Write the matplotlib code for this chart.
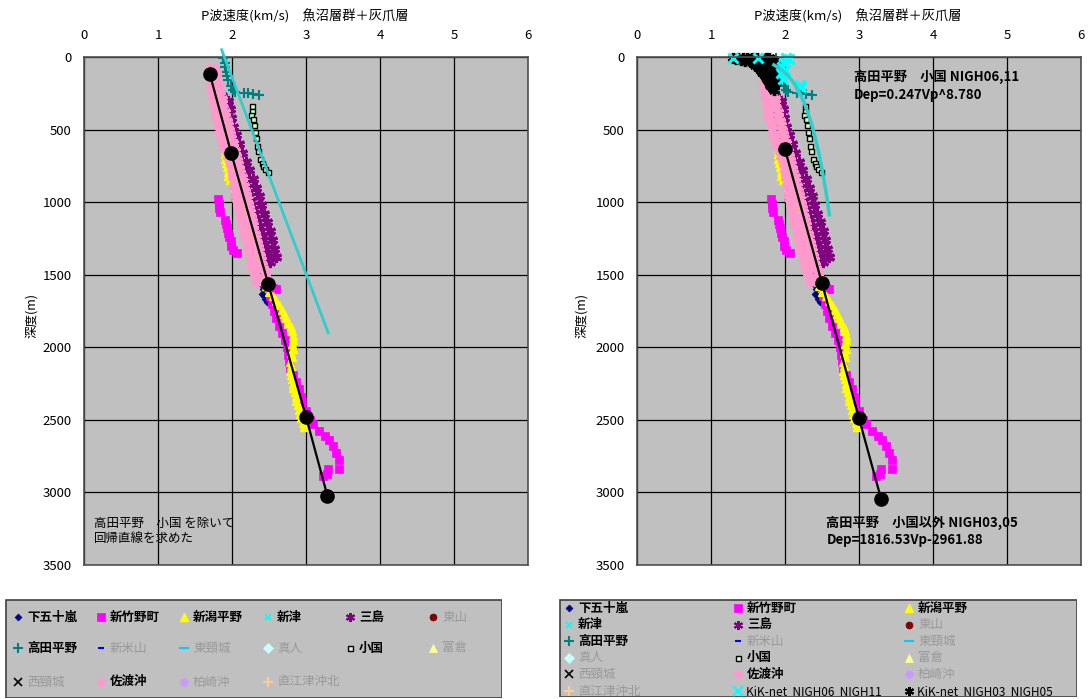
import matplotlib
matplotlib.use("Agg")
import matplotlib.pyplot as plt
from matplotlib.patches import Rectangle

plt.rcParams['font.family'] = ['Noto Sans CJK JP', 'DejaVu Sans']

# ---------------- data: P-wave velocity (km/s) and depth (m) ----------------
shimoigarashi_vp = [2.28, 2.30, 2.31, 2.33, 2.34, 2.35, 2.33, 2.36, 2.38, 2.37, 2.40, 2.42, 2.41, 2.43, 2.45, 2.47]
shimoigarashi_dep = [1150, 1200, 1250, 1300, 1350, 1400, 1450, 1480, 1510, 1540, 1570, 1600, 1630, 1650, 1670, 1690]

shintakeno_vp = [1.81, 1.82, 1.83, 1.84, 1.90, 1.92, 1.93, 1.95, 1.96, 1.98, 1.99, 2.01, 2.07, 2.47,
                 2.55, 2.60, 2.52, 2.54, 2.57, 2.60, 2.64, 2.68, 2.71, 2.74, 2.75, 2.77, 2.79, 2.83,
                 2.87, 2.90, 2.93, 2.95, 3.00, 3.05, 3.10, 3.17, 3.25, 3.31, 3.36, 3.41, 3.44, 3.44,
                 3.30, 3.28, 3.23]
shintakeno_dep = [980, 1010, 1040, 1065, 1120, 1150, 1180, 1210, 1240, 1270, 1300, 1330, 1350, 1360,
                  1590, 1600, 1650, 1700, 1750, 1800, 1850, 1900, 1950, 2000, 2050, 2100, 2140, 2190,
                  2240, 2290, 2340, 2380, 2440, 2500, 2530, 2580, 2610, 2640, 2680, 2730, 2780, 2840,
                  2840, 2870, 2890]

niigata_vp = [1.90, 1.90, 1.91, 1.92, 1.93, 1.94, 1.95, 1.97, 2.04, 2.08, 2.12, 2.16, 2.18, 2.21,
              2.24, 2.26, 2.29, 2.32, 2.34, 2.37, 2.40, 2.43, 2.46, 2.50, 2.55, 2.60, 2.64, 2.67,
              2.70, 2.73, 2.76, 2.80, 2.81, 2.82, 2.82, 2.81, 2.82, 2.80, 2.81, 2.79, 2.80, 2.78,
              2.80, 2.81, 2.82, 2.83, 2.85, 2.86, 2.87, 2.89, 2.90, 2.92, 2.93, 2.96, 2.97]
niigata_dep = [640, 670, 700, 730, 760, 790, 820, 850, 900, 950, 1000, 1050, 1100, 1150,
               1200, 1250, 1300, 1350, 1400, 1450, 1500, 1540, 1580, 1620, 1650, 1680, 1710, 1740,
               1770, 1800, 1830, 1860, 1890, 1920, 1950, 1980, 2010, 2040, 2070, 2100, 2130, 2160,
               2190, 2220, 2250, 2280, 2310, 2340, 2370, 2400, 2430, 2460, 2490, 2520, 2550]

niitsu_vp = [1.88]
niitsu_dep = [250]

mishima_vp = [1.87, 1.95, 1.89, 1.97, 1.90, 1.99, 1.93, 2.02, 1.95, 2.06, 1.99, 2.10, 2.02, 2.14,
              2.06, 2.19, 2.10, 2.23, 2.15, 2.28, 2.19, 2.32, 2.23, 2.36, 2.26, 2.39, 2.30, 2.43,
              2.34, 2.47, 2.38, 2.51, 2.42, 2.54, 2.45, 2.57, 2.48, 2.59, 2.51]
mishima_dep = [270, 300, 330, 360, 390, 420, 450, 480, 510, 540, 570, 600, 630, 660,
               690, 720, 750, 780, 810, 840, 870, 900, 930, 960, 990, 1020, 1050, 1080,
               1110, 1140, 1170, 1200, 1230, 1260, 1290, 1320, 1350, 1380, 1410]

takada_vp = [1.88, 1.90, 1.91, 1.92, 1.93, 1.95, 1.98, 2.01, 2.04, 2.16, 2.22, 2.28, 2.36]
takada_dep = [10, 40, 70, 100, 130, 160, 200, 225, 240, 245, 250, 255, 265]

oguni_vp = [2.27, 2.27, 2.26, 2.28, 2.30, 2.31, 2.32, 2.34, 2.35, 2.38, 2.40, 2.42, 2.45, 2.48]
oguni_dep = [335, 370, 400, 430, 470, 517, 560, 611, 650, 703, 730, 749, 775, 795]

sado_vp = [1.70, 1.76, 1.70, 1.78, 1.71, 1.79, 1.72, 1.80, 1.72, 1.82, 1.73, 1.83, 1.74, 1.84,
           1.75, 1.86, 1.76, 1.87, 1.77, 1.88, 1.78, 1.90, 1.79, 1.91, 1.81, 1.93, 1.82, 1.94,
           1.83, 1.96, 1.85, 1.97, 1.86, 1.99, 1.88, 2.01, 1.91, 2.02, 1.93, 2.04, 1.95, 2.05,
           1.97, 2.07, 1.98, 2.08, 2.00, 2.10, 2.01, 2.11, 2.02, 2.13, 2.03, 2.14, 2.04, 2.16,
           2.05, 2.17, 2.06, 2.19, 2.07, 2.20, 2.08, 2.21, 2.10, 2.23, 2.11, 2.24, 2.12, 2.25,
           2.14, 2.27, 2.15, 2.28, 2.16, 2.29, 2.18, 2.31, 2.19, 2.32, 2.21, 2.34, 2.22, 2.35,
           2.23, 2.36, 2.25, 2.38, 2.26, 2.39, 2.28, 2.41, 2.29, 2.42, 2.31, 2.44, 2.32, 2.45,
           2.34, 2.46]
sado_dep = [80, 80, 110, 110, 140, 140, 170, 170, 200, 200, 230, 230, 260, 260,
            290, 290, 320, 320, 350, 350, 380, 380, 410, 410, 440, 440, 470, 470,
            500, 500, 530, 530, 560, 560, 590, 590, 620, 620, 650, 650, 680, 680,
            710, 710, 740, 740, 770, 770, 800, 800, 830, 830, 860, 860, 890, 890,
            920, 920, 950, 950, 980, 980, 1010, 1010, 1040, 1040, 1070, 1070, 1100, 1100,
            1130, 1130, 1160, 1160, 1190, 1190, 1220, 1220, 1250, 1250, 1280, 1280, 1310, 1310,
            1340, 1340, 1370, 1370, 1400, 1400, 1430, 1430, 1460, 1460, 1490, 1490, 1520, 1520,
            1550, 1550]

kik0611_vp = [1.30, 1.64, 2.02, 2.05, 1.98, 1.96, 2.00, 1.95, 1.97, 2.20, 2.22]
kik0611_dep = [5, 5, 5, 15, 40, 70, 90, 110, 150, 190, 210]

kik0305_vp = [1.30, 1.34, 1.37, 1.40, 1.43, 1.46, 1.48, 1.51, 1.53, 1.55, 1.57, 1.59, 1.60, 1.62,
              1.63, 1.64, 1.66, 1.67, 1.69, 1.70, 1.71, 1.72, 1.74, 1.75, 1.76, 1.77, 1.78, 1.79,
              1.80, 1.81, 1.82, 1.83, 1.84, 1.85, 1.86, 1.78, 1.74, 1.84, 1.68, 1.88, 1.82, 1.76]
kik0305_dep = [5, 12, 4, 18, 8, 25, 6, 15, 30, 10, 40, 20, 55, 8,
               70, 30, 85, 45, 100, 15, 120, 60, 135, 80, 150, 35, 170, 100,
               190, 120, 210, 65, 150, 230, 180, 5, 10, 20, 65, 90, 45, 115]

# regression nodes (black line with dots)
fit_left_vp = [1.70, 1.99, 2.49, 3.00, 3.29]
fit_left_dep = [117, 663, 1564, 2478, 3025]
fit_right_vp = [2.00, 2.50, 3.00, 3.30]
fit_right_dep = [636, 1559, 2489, 3047]

# linear trend of 高田平野・小国 (left panel)
trend_left_vp = [1.86, 3.30]
trend_left_dep = [-50, 1900]

# power-law fit Dep = a * Vp^b (right panel)
power_a = 0.247
power_b = 8.780
power_vp = [1.85, 1.90, 1.95, 2.00, 2.05, 2.10, 2.15, 2.20, 2.25, 2.30,
            2.35, 2.40, 2.45, 2.50, 2.55, 2.60]

xticks = [0, 1, 2, 3, 4, 5, 6]
yticks = [0, 500, 1000, 1500, 2000, 2500, 3000, 3500]

TITLE = 'P波速度(km/s)　魚沼層群＋灰爪層'

# ---------------- styles ----------------
AST = (6, 2, 0)
styles = {
    '下五十嵐': dict(marker='D', color='#000080', ms=3.5, mec='#000080', mew=0.5),
    '新竹野町': dict(marker='s', color='#FF00FF', ms=5.5, mec='#FF00FF', mew=0.5),
    '新潟平野': dict(marker='^', color='#FFFF00', ms=5.5, mec='#FFFF00', mew=1.0),
    '新津': dict(marker='x', color='#00FFFF', ms=5, mec='#00FFFF', mew=1.2),
    '三島': dict(marker=AST, color='#800080', ms=8, mec='#800080', mew=2.2),
    '東山': dict(marker='o', color='#800000', ms=5, mec='#800000', mew=0.5),
    '高田平野': dict(marker='+', color='#008080', ms=7, mec='#008080', mew=1.5),
    '新米山': dict(marker='_', color='#0000FF', ms=5, mec='#0000FF', mew=2.5),
    '東頸城': dict(marker='_', color='#00CCFF', ms=7, mec='#00CCFF', mew=2.5),
    '真人': dict(marker='D', color='#CCFFFF', ms=5, mec='#CCFFFF', mew=0.5),
    '小国': dict(marker='s', color='#CCFFCC', ms=3.6, mec='#000000', mew=1.0),
    '富倉': dict(marker='^', color='#FFFF99', ms=6, mec='#FFFF99', mew=0.5),
    '西頸城': dict(marker='x', color='#000000', ms=6, mec='#000000', mew=1.2),
    '佐渡沖': dict(marker=AST, color='#FF99CC', ms=8, mec='#FF99CC', mew=2.4),
    '柏崎沖': dict(marker='o', color='#CC99FF', ms=5.5, mec='#CC99FF', mew=0.5),
    '直江津沖北': dict(marker='+', color='#FFCC99', ms=7, mec='#FFCC99', mew=1.5),
    'KiK-net NIGH06 NIGH11': dict(marker='x', color='#00FFFF', ms=6.5, mec='#00FFFF', mew=2.2),
    'KiK-net NIGH03 NIGH05': dict(marker=AST, color='#000000', ms=8, mec='#000000', mew=2.4),
}
legend_ms = {'三島': 6.5, '佐渡沖': 6.5, 'KiK-net NIGH03 NIGH05': 6.5}

series = [
    ('下五十嵐', shimoigarashi_vp, shimoigarashi_dep),
    ('新竹野町', shintakeno_vp, shintakeno_dep),
    ('新潟平野', niigata_vp, niigata_dep),
    ('新津', niitsu_vp, niitsu_dep),
    ('三島', mishima_vp, mishima_dep),
    ('高田平野', takada_vp, takada_dep),
]
present = {'下五十嵐', '新竹野町', '新潟平野', '新津', '三島', '高田平野', '小国', '佐渡沖',
           'KiK-net NIGH06 NIGH11', 'KiK-net NIGH03 NIGH05'}

names_left = ['下五十嵐', '新竹野町', '新潟平野', '新津', '三島', '東山',
              '高田平野', '新米山', '東頸城', '真人', '小国', '富倉',
              '西頸城', '佐渡沖', '柏崎沖', '直江津沖北']
names_right = names_left + ['KiK-net NIGH06 NIGH11', 'KiK-net NIGH03 NIGH05']

W, H = 1088, 699
fig = plt.figure(figsize=(W / 100, H / 100), dpi=100)
fig.patch.set_facecolor('white')


def px_axes(x0, y0, x1, y1):
    return fig.add_axes([x0 / W, 1 - y1 / H, (x1 - x0) / W, (y1 - y0) / H])


def setup_panel(ax, title_x, ylabel_x):
    ax.set_facecolor('#C0C0C0')
    ax.set_xlim(0, 6)
    ax.set_ylim(3500, 0)
    ax.xaxis.tick_top()
    ax.set_xticks(xticks)
    ax.set_yticks(yticks)
    ax.tick_params(length=0, labelsize=9.5, pad=9)
    ax.tick_params(axis='x', pad=11)
    ax.grid(True, color='#000000', lw=0.9)
    ax.set_axisbelow(True)
    for s in ax.spines.values():
        s.set_color('#505050')
        s.set_linewidth(1.2)
    fig.text(title_x / W, 1 - 16 / H, TITLE, ha='center', va='center', fontsize=9.5)
    fig.text(ylabel_x / W, 1 - 315 / H, '深度(m)', ha='center', va='center',
             rotation=90, fontsize=9)


def plot_series(ax, name, vp, dep):
    st = styles[name]
    ax.plot(vp, dep, ls='none', marker=st['marker'], color=st['color'], ms=st['ms'],
            mec=st['mec'], mew=st['mew'], mfc=st['color'], clip_on=False)


def common_series(ax):
    for name, vp, dep in series:
        plot_series(ax, name, vp, dep)


# ---------------- left panel ----------------
axL = px_axes(84, 57, 528, 565)
setup_panel(axL, 305, 32)
common_series(axL)
axL.plot(trend_left_vp, trend_left_dep, color='#33CCCC', lw=2, clip_on=False, zorder=3)
plot_series(axL, '小国', oguni_vp, oguni_dep)
plot_series(axL, '佐渡沖', sado_vp, sado_dep)
axL.plot(fit_left_vp, fit_left_dep, color='black', lw=1.6, marker='o', ms=9.5, zorder=5)
axL.text(0.14, 3265, '高田平野　小国 を除いて\n回帰直線を求めた', fontsize=9,
         va='center', ha='left', linespacing=1.25)

# ---------------- right panel ----------------
axR = px_axes(637, 57, 1081, 565)
setup_panel(axR, 858, 582)
common_series(axR)
power_dep = [power_a * v ** power_b for v in power_vp]
axR.plot(power_vp, power_dep, color='#33CCCC', lw=2.5, zorder=3)
plot_series(axR, '小国', oguni_vp, oguni_dep)
plot_series(axR, '佐渡沖', sado_vp, sado_dep)
axR.plot(fit_right_vp, fit_right_dep, color='black', lw=1.6, marker='o', ms=9.5, zorder=5)
plot_series(axR, 'KiK-net NIGH03 NIGH05', kik0305_vp, kik0305_dep)
plot_series(axR, 'KiK-net NIGH06 NIGH11', kik0611_vp, kik0611_dep)
axR.text(2.93, 200, '高田平野　小国 NIGH06,11\nDep=%.3fVp^%.3f' % (power_a, power_b),
         fontsize=9.5, fontweight='bold', va='center', ha='left', linespacing=1.3)
axR.text(2.56, 3270, '高田平野　小国以外 NIGH03,05\nDep=1816.53Vp-2961.88',
         fontsize=9.5, fontweight='bold', va='center', ha='left', linespacing=1.3)


# ---------------- legends ----------------
def draw_legend(x0, y0, x1, y1, names, col_x, row_y, ncol):
    lax = px_axes(x0, y0, x1, y1)
    lax.set_xlim(0, x1 - x0)
    lax.set_ylim(y1 - y0, 0)
    lax.axis('off')
    lax.add_patch(Rectangle((0.5, 0.5), x1 - x0 - 1, y1 - y0 - 1, facecolor='#C0C0C0',
                            edgecolor='#404040', lw=1.2))
    for i, name in enumerate(names):
        r, c = divmod(i, ncol)
        x, y = col_x[c], row_y[r]
        st = styles[name]
        lax.plot([x], [y], ls='none', marker=st['marker'], color=st['color'],
                 ms=legend_ms.get(name, min(st['ms'], 6.5)), mec=st['mec'],
                 mew=min(st['mew'], 1.5), mfc=st['color'])
        if name.startswith('KiK'):
            lax.text(x + 8, y + 1, name.replace(' ', '  '), fontsize=8.5, va='center',
                     ha='left', color='black')
        else:
            lax.text(x + 9, y, name, fontsize=9, va='center', ha='left',
                     color='black' if name in present else '#999999',
                     fontweight='bold' if name in present else 'normal')


draw_legend(5, 599, 502, 698, names_left, [13, 96, 179, 263, 345, 428], [18, 49, 83], 6)
draw_legend(559, 599, 1077, 697, names_right, [10, 179, 350],
            [9, 25.6, 42.2, 58.8, 75.4, 92], 3)

fig.savefig('out.png', dpi=100, facecolor='white')
